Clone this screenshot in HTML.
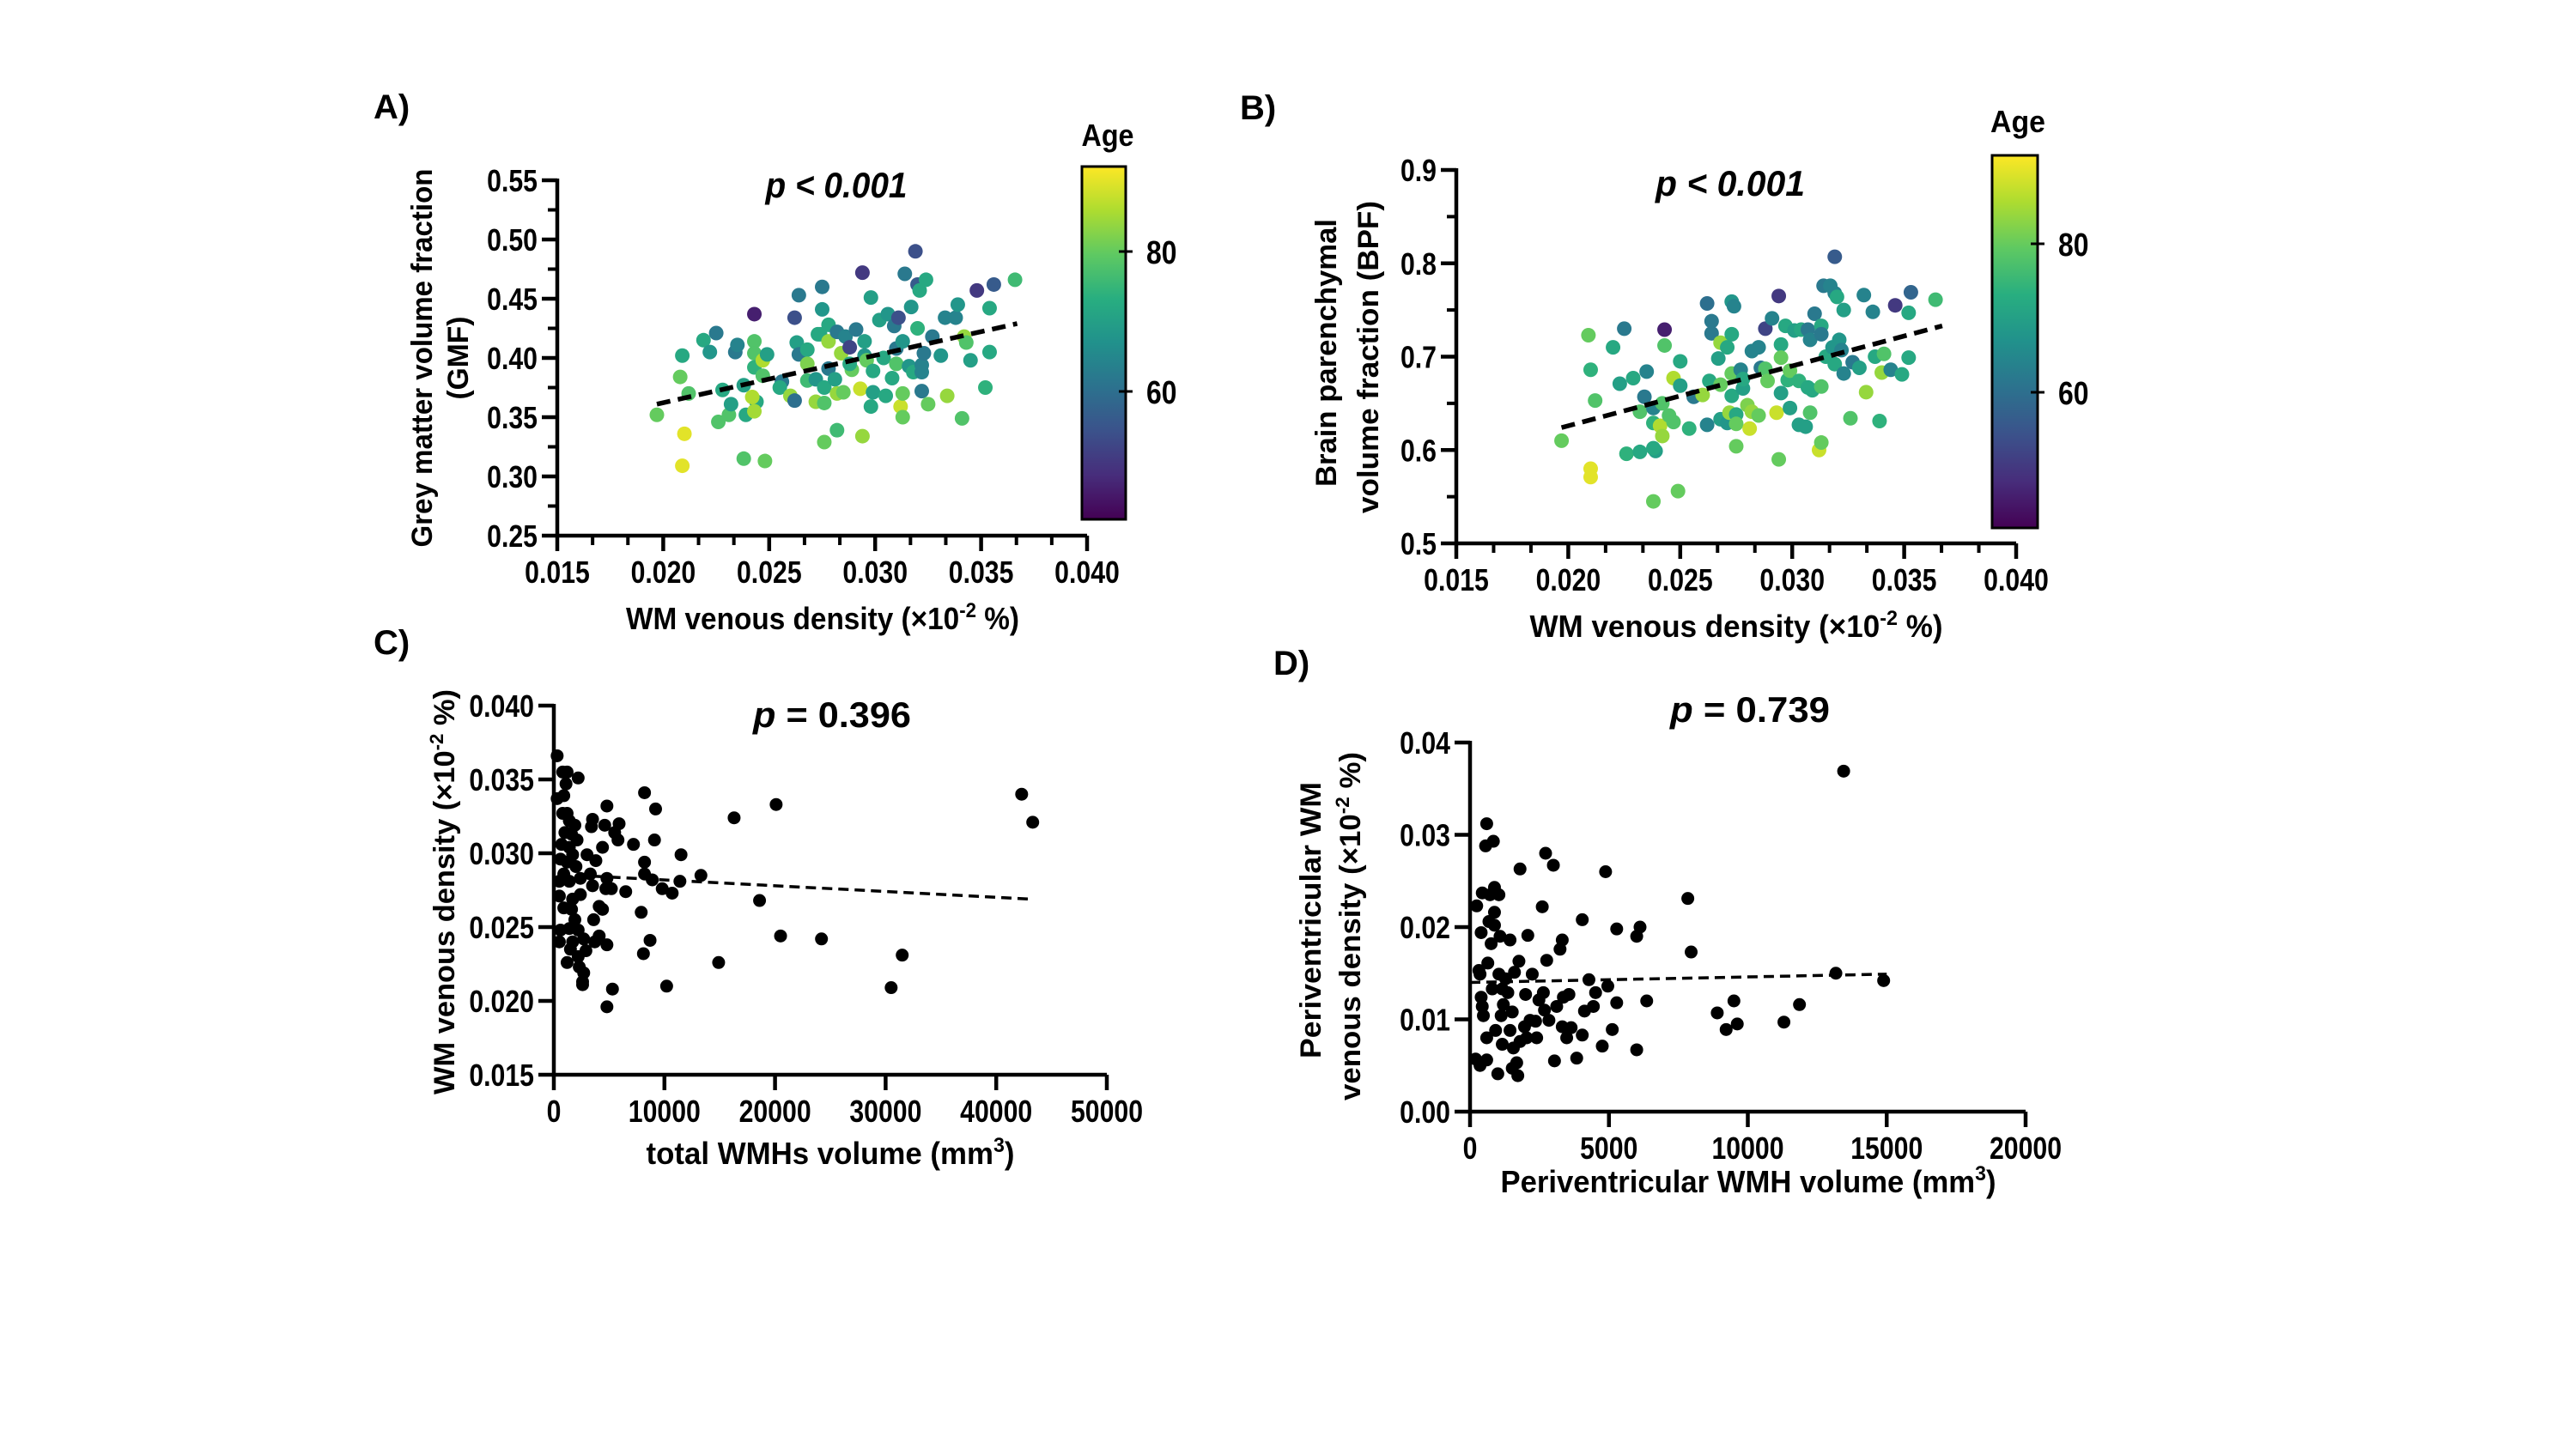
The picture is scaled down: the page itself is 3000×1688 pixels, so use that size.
<!DOCTYPE html>
<html>
<head>
<meta charset="utf-8">
<style>
html,body{margin:0;padding:0;background:#fff;}
svg{display:block;}
text{font-family:"Liberation Sans",Arial,sans-serif;font-weight:bold;fill:#000;}
</style>
</head>
<body>
<svg id="fig" width="3000" height="1688" viewBox="0 0 3000 1688" xmlns="http://www.w3.org/2000/svg">
<defs>
<linearGradient id="viridis" x1="0" y1="1" x2="0" y2="0">
<stop offset="0" stop-color="#440154"/>
<stop offset="0.125" stop-color="#472d7b"/>
<stop offset="0.25" stop-color="#3b528b"/>
<stop offset="0.375" stop-color="#2c728e"/>
<stop offset="0.5" stop-color="#21918c"/>
<stop offset="0.625" stop-color="#28ae80"/>
<stop offset="0.75" stop-color="#5ec962"/>
<stop offset="0.875" stop-color="#addc30"/>
<stop offset="1" stop-color="#fde725"/>
</linearGradient>
</defs>
<rect width="3000" height="1688" fill="#fff"/>

<!-- Panel labels -->
<text x="435" y="138" font-size="40">A)</text>
<text x="1444" y="139" font-size="40">B)</text>
<text x="435" y="762" font-size="40">C)</text>
<text x="1483" y="786" font-size="40">D)</text>

<!-- p-value titles -->
<text x="974" y="230" font-size="42" font-style="italic" text-anchor="middle" textLength="165" lengthAdjust="spacingAndGlyphs">p &lt; 0.001</text>
<text x="2015" y="228" font-size="42" font-style="italic" text-anchor="middle" textLength="174" lengthAdjust="spacingAndGlyphs">p &lt; 0.001</text>
<text x="969" y="847" font-size="42" text-anchor="middle" textLength="184" lengthAdjust="spacingAndGlyphs"><tspan font-style="italic">p</tspan>  = 0.396</text>
<text x="2038" y="841" font-size="42" text-anchor="middle" textLength="186" lengthAdjust="spacingAndGlyphs"><tspan font-style="italic">p</tspan>  = 0.739</text>

<!-- Axis titles -->
<text x="958" y="733" font-size="36" text-anchor="middle" textLength="458" lengthAdjust="spacingAndGlyphs">WM venous density (×10<tspan font-size="24" dy="-14">-2</tspan><tspan dy="14"> %)</tspan></text>
<text x="2022" y="742" font-size="36" text-anchor="middle" textLength="481" lengthAdjust="spacingAndGlyphs">WM venous density (×10<tspan font-size="24" dy="-14">-2</tspan><tspan dy="14"> %)</tspan></text>
<text x="967" y="1356" font-size="36" text-anchor="middle" textLength="429" lengthAdjust="spacingAndGlyphs">total WMHs volume (mm<tspan font-size="24" dy="-14">3</tspan><tspan dy="14">)</tspan></text>
<text x="2036" y="1389" font-size="36" text-anchor="middle" textLength="577" lengthAdjust="spacingAndGlyphs">Periventricular WMH volume (mm<tspan font-size="24" dy="-14">3</tspan><tspan dy="14">)</tspan></text>

<text transform="translate(503,417) rotate(-90)" font-size="34" text-anchor="middle" textLength="441" lengthAdjust="spacingAndGlyphs">Grey matter volume fraction</text>
<text transform="translate(545,417) rotate(-90)" font-size="34" text-anchor="middle" textLength="97" lengthAdjust="spacingAndGlyphs">(GMF)</text>
<text transform="translate(1556,411) rotate(-90)" font-size="34" text-anchor="middle" textLength="312" lengthAdjust="spacingAndGlyphs">Brain parenchymal</text>
<text transform="translate(1605,416) rotate(-90)" font-size="34" text-anchor="middle" textLength="364" lengthAdjust="spacingAndGlyphs">volume fraction (BPF)</text>
<text transform="translate(529,1039) rotate(-90)" font-size="34" text-anchor="middle" textLength="472" lengthAdjust="spacingAndGlyphs">WM venous density (×10<tspan font-size="22" dy="-13">-2</tspan><tspan dy="13"> %)</tspan></text>
<text transform="translate(1538,1072) rotate(-90)" font-size="34" text-anchor="middle" textLength="322" lengthAdjust="spacingAndGlyphs">Periventricular WM</text>
<text transform="translate(1584,1079) rotate(-90)" font-size="34" text-anchor="middle" textLength="406" lengthAdjust="spacingAndGlyphs">venous density (×10<tspan font-size="22" dy="-13">-2</tspan><tspan dy="13"> %)</tspan></text>

<!-- Colorbars -->
<text x="1290" y="170" font-size="36" text-anchor="middle" textLength="61" lengthAdjust="spacingAndGlyphs">Age</text>
<rect x="1260" y="194" width="51" height="411" fill="url(#viridis)" stroke="#000" stroke-width="3"/>
<text x="2350" y="154" font-size="36" text-anchor="middle" textLength="64" lengthAdjust="spacingAndGlyphs">Age</text>
<rect x="2320" y="181" width="53" height="434" fill="url(#viridis)" stroke="#000" stroke-width="3"/>

<g id="layer"></g>
</svg>

<script>
// ---------- Panel A data (WM venous density vs GMF, colored by age) ----------
const aX = [0.0197,0.0209,0.0210,0.0208,0.0209,0.0212,0.0219,0.0225,0.0222,0.0228,0.0226,0.0231,0.0232,0.0234,0.0235,0.0238,0.0239,0.0238,0.0243,0.0243,0.0243,0.0243,0.0247,0.0249,0.0247,0.0244,0.0242,0.0243,0.0248,0.0256,0.0255,0.0260,0.0262,0.0262,0.0264,0.0263,0.0264,0.0268,0.0268,0.0268,0.0272,0.0272,0.0275,0.0275,0.0273,0.0274,0.0278,0.0278,0.0278,0.0276,0.0276,0.0276,0.0281,0.0282,0.0282,0.0282,0.0285,0.0284,0.0286,0.0288,0.0289,0.0288,0.0291,0.0294,0.0293,0.0295,0.0295,0.0296,0.0294,0.0298,0.0299,0.0299,0.0298,0.0302,0.0304,0.0305,0.0306,0.0308,0.0309,0.0310,0.0310,0.0311,0.0313,0.0312,0.0313,0.0313,0.0314,0.0316,0.0317,0.0318,0.0319,0.0320,0.0321,0.0324,0.0320,0.0322,0.0322,0.0323,0.0322,0.0325,0.0327,0.0331,0.0333,0.0334,0.0338,0.0339,0.0341,0.0342,0.0343,0.0345,0.0348,0.0352,0.0354,0.0354,0.0356,0.0366];
const aY = [0.352,0.309,0.336,0.384,0.402,0.370,0.415,0.421,0.405,0.373,0.346,0.352,0.361,0.405,0.411,0.377,0.352,0.315,0.437,0.414,0.404,0.392,0.398,0.403,0.385,0.363,0.367,0.355,0.313,0.380,0.375,0.368,0.364,0.434,0.453,0.413,0.403,0.407,0.395,0.381,0.382,0.363,0.460,0.441,0.420,0.420,0.428,0.414,0.391,0.375,0.362,0.329,0.382,0.422,0.339,0.370,0.371,0.404,0.418,0.409,0.390,0.395,0.424,0.472,0.374,0.414,0.402,0.398,0.334,0.451,0.389,0.371,0.359,0.432,0.400,0.368,0.437,0.383,0.427,0.408,0.395,0.434,0.414,0.359,0.370,0.350,0.471,0.393,0.443,0.388,0.490,0.462,0.457,0.466,0.425,0.394,0.388,0.404,0.372,0.361,0.418,0.402,0.434,0.368,0.434,0.445,0.349,0.418,0.413,0.398,0.457,0.375,0.442,0.405,0.462,0.466];
const aAge = [80,90,90,80,72,78,72,62,68,72,78,78,70,62,64,70,72,78,46,78,78,74,86,70,78,72,86,85,80,62,72,84,60,54,62,70,62,72,82,76,68,84,62,68,72,72,72,84,62,72,78,80,70,62,76,84,80,84,64,52,80,72,62,50,88,70,68,80,84,70,72,70,72,70,72,72,68,72,62,62,78,54,68,88,80,80,62,68,68,72,54,56,72,72,74,64,64,62,62,80,62,68,64,84,64,68,78,84,78,70,50,74,72,72,56,76];
const aFit = [[0.0197,0.361],[0.0367,0.429]];

// ---------- Panel B data (WM venous density vs BPF, colored by age) ----------
const bX = [0.0197,0.0209,0.0210,0.0210,0.0210,0.0212,0.0220,0.0225,0.0223,0.0226,0.0229,0.0232,0.0232,0.0234,0.0235,0.0243,0.0243,0.0238,0.0239,0.0238,0.0238,0.0238,0.0242,0.0241,0.0242,0.0245,0.0247,0.0247,0.0250,0.0250,0.0249,0.0254,0.0256,0.0260,0.0262,0.0264,0.0264,0.0263,0.0262,0.0267,0.0268,0.0268,0.0268,0.0271,0.0271,0.0272,0.0273,0.0273,0.0274,0.0273,0.0273,0.0275,0.0275,0.0275,0.0277,0.0278,0.0278,0.0280,0.0281,0.0282,0.0282,0.0285,0.0285,0.0286,0.0288,0.0288,0.0289,0.0291,0.0293,0.0294,0.0295,0.0295,0.0295,0.0294,0.0297,0.0298,0.0299,0.0299,0.0301,0.0303,0.0303,0.0304,0.0306,0.0307,0.0307,0.0308,0.0308,0.0310,0.0309,0.0313,0.0313,0.0313,0.0312,0.0313,0.0314,0.0317,0.0315,0.0318,0.0319,0.0319,0.0320,0.0321,0.0319,0.0322,0.0323,0.0323,0.0327,0.0330,0.0332,0.0333,0.0326,0.0336,0.0337,0.0339,0.0340,0.0341,0.0344,0.0346,0.0349,0.0352,0.0352,0.0353,0.0364];
const bY = [0.610,0.723,0.686,0.580,0.571,0.653,0.710,0.730,0.671,0.596,0.677,0.598,0.641,0.657,0.684,0.729,0.712,0.645,0.599,0.602,0.629,0.545,0.650,0.626,0.615,0.637,0.630,0.677,0.669,0.695,0.556,0.623,0.657,0.659,0.757,0.738,0.725,0.674,0.627,0.698,0.715,0.670,0.633,0.710,0.629,0.640,0.724,0.759,0.754,0.658,0.682,0.638,0.628,0.604,0.686,0.666,0.676,0.648,0.623,0.706,0.641,0.637,0.710,0.688,0.730,0.687,0.674,0.741,0.640,0.765,0.713,0.661,0.699,0.590,0.733,0.675,0.685,0.645,0.728,0.674,0.627,0.729,0.625,0.667,0.729,0.640,0.718,0.746,0.664,0.733,0.724,0.668,0.600,0.608,0.776,0.776,0.700,0.710,0.807,0.768,0.764,0.718,0.692,0.707,0.682,0.750,0.694,0.688,0.766,0.662,0.634,0.748,0.700,0.631,0.683,0.703,0.686,0.755,0.681,0.747,0.699,0.769,0.761];
const bAge = [80,80,74,90,90,78,72,62,70,74,72,72,78,62,64,46,78,64,70,72,74,80,78,86,84,78,78,86,70,72,80,74,62,84,60,62,62,72,64,70,84,80,70,72,68,84,72,68,64,72,80,72,80,80,64,70,72,82,88,64,84,80,64,62,52,78,80,64,88,50,72,70,80,80,72,74,80,70,70,74,70,72,70,72,62,78,64,62,72,72,62,78,88,80,62,64,72,68,56,64,72,68,72,64,64,70,62,70,64,84,78,64,72,74,84,78,64,50,72,72,72,58,76];
const bFit = [[0.0197,0.624],[0.0367,0.733]];

// ---------- Panel C data (total WMH volume vs WM venous density) ----------
const cX = [300,300,800,1200,1100,900,2200,800,1200,1400,1000,1600,1900,2100,700,1400,600,1700,1200,2000,900,500,1400,2400,500,1700,900,1600,2400,600,1400,1900,2200,500,1700,1500,1200,2200,2700,2900,2300,2700,2600,2600,3000,3500,3400,3800,3300,3500,3600,3700,4100,4100,4400,4400,4600,4800,4800,4800,4800,4700,5200,5300,5500,5800,5900,6500,7200,7900,8100,8200,8200,8200,8700,8900,9100,9200,9800,10200,10700,11400,11500,13300,14900,16300,18600,20100,20500,24200,30500,31500,42300,43300];
const cY = [0.0366,0.0337,0.0355,0.0355,0.0347,0.0339,0.0351,0.0327,0.0327,0.0322,0.0314,0.0313,0.0319,0.0309,0.0306,0.0304,0.0296,0.0299,0.0294,0.0291,0.0286,0.0281,0.0281,0.0283,0.0271,0.0269,0.0263,0.0262,0.0272,0.0248,0.0249,0.0255,0.0248,0.0240,0.0240,0.0235,0.0226,0.0230,0.0242,0.0234,0.0223,0.0219,0.0213,0.0211,0.0299,0.0323,0.0318,0.0295,0.0286,0.0278,0.0255,0.0240,0.0244,0.0264,0.0262,0.0304,0.0319,0.0332,0.0283,0.0196,0.0238,0.0276,0.0276,0.0208,0.0314,0.0309,0.0320,0.0274,0.0306,0.0260,0.0232,0.0341,0.0294,0.0286,0.0241,0.0282,0.0309,0.0330,0.0276,0.0210,0.0273,0.0281,0.0299,0.0285,0.0226,0.0324,0.0268,0.0333,0.0244,0.0242,0.0209,0.0231,0.0340,0.0321];
const cFit = [[2150,0.0285],[43000,0.0269]];

// ---------- Panel D data (periventricular WMH volume vs periventricular WM venous density) ----------
const dX = [200,360,240,320,360,400,440,400,440,480,560,600,600,600,640,680,720,760,800,840,880,880,880,920,1000,1040,1080,1040,1120,1160,1160,1200,1280,1360,1440,1440,1520,1520,1560,1600,1680,1720,1760,1800,1800,1960,2000,2040,2080,2160,2240,2360,2400,2480,2600,2640,2680,2720,2760,2840,3000,3040,3120,3240,3320,3320,3360,3480,3560,3640,3840,4040,4040,4120,4280,4440,4520,4760,4880,4960,5120,5280,5280,6000,6120,6000,6360,7840,7960,8900,9220,9500,9620,11300,11860,13170,13450,14890];
const dY = [0.0057,0.0050,0.0223,0.0153,0.0149,0.0194,0.0237,0.0124,0.0114,0.0104,0.0288,0.0312,0.0056,0.0080,0.0161,0.0206,0.0235,0.0182,0.0133,0.0293,0.0243,0.0216,0.0202,0.0088,0.0041,0.0235,0.0190,0.0149,0.0104,0.0073,0.0133,0.0116,0.0144,0.0129,0.0186,0.0088,0.0108,0.0047,0.0069,0.0151,0.0053,0.0039,0.0163,0.0263,0.0076,0.0092,0.0127,0.0080,0.0191,0.0099,0.0149,0.0098,0.0080,0.0121,0.0222,0.0129,0.0110,0.0280,0.0164,0.0099,0.0267,0.0055,0.0114,0.0176,0.0186,0.0092,0.0124,0.0080,0.0127,0.0091,0.0058,0.0208,0.0083,0.0109,0.0143,0.0114,0.0129,0.0071,0.0260,0.0136,0.0089,0.0118,0.0198,0.0190,0.0200,0.0067,0.0120,0.0231,0.0173,0.0107,0.0089,0.0120,0.0095,0.0097,0.0116,0.0150,0.0369,0.0142];
const dFit = [[0,0.0140],[15000,0.0149]];

// ---------- Tick labels ----------
const aXTicks = [0.015,0.020,0.025,0.030,0.035,0.040];
const aXTickLabels = ["0.015","0.020","0.025","0.030","0.035","0.040"];
const aYTicks = [0.25,0.30,0.35,0.40,0.45,0.50,0.55];
const aYTickLabels = ["0.25","0.30","0.35","0.40","0.45","0.50","0.55"];
const bYTicks = [0.5,0.6,0.7,0.8,0.9];
const bYTickLabels = ["0.5","0.6","0.7","0.8","0.9"];
const cXTicks = [0,10000,20000,30000,40000,50000];
const cXTickLabels = ["0","10000","20000","30000","40000","50000"];
const cYTicks = [0.015,0.020,0.025,0.030,0.035,0.040];
const cYTickLabels = ["0.015","0.020","0.025","0.030","0.035","0.040"];
const dXTicks = [0,5000,10000,15000,20000];
const dXTickLabels = ["0","5000","10000","15000","20000"];
const dYTicks = [0.00,0.01,0.02,0.03,0.04];
const dYTickLabels = ["0.00","0.01","0.02","0.03","0.04"];
const ageTicks = [60,80];
const ageTickLabels = ["60","80"];

const NS = "http://www.w3.org/2000/svg";
const layer = document.getElementById('layer');

function mk(tag, attrs, parent){
  const e = document.createElementNS(NS, tag);
  for (const k in attrs) e.setAttribute(k, attrs[k]);
  (parent||layer).appendChild(e);
  return e;
}
function scale(d0,d1,p0,p1){ return v => p0 + (v-d0)/(d1-d0)*(p1-p0); }

function viridis(t){
  const s=[[68,1,84],[71,45,123],[59,82,139],[44,114,142],[33,145,140],[40,174,128],[94,201,98],[173,220,48],[253,231,37]];
  t=Math.max(0,Math.min(1,t)); const f=t*(s.length-1); const i=Math.min(s.length-2,Math.floor(f)); const r=f-i;
  const c=s[i].map((v,k)=>Math.round(v+(s[i+1][k]-v)*r));
  return `rgb(${c[0]},${c[1]},${c[2]})`;
}

function condText(x,y,str,anchor,size,sx,bold){
  const t = mk('text',{transform:`translate(${x},${y}) scale(${sx},1)`,'text-anchor':anchor,'font-size':size});
  if(!bold) t.setAttribute('font-weight','normal');
  t.textContent = str;
  return t;
}

function panel(cfg){
  const g = mk('g',{});
  
  
  const X = scale(cfg.xd[0],cfg.xd[1],cfg.px[0],cfg.px[1]);
  const Y = scale(cfg.yd[0],cfg.yd[1],cfg.py[0],cfg.py[1]);
  // axes
  const ax = mk('path',{d:`M${cfg.px[0]},${cfg.py[1]-2} V${cfg.py[0]} H${cfg.px[1]}`,fill:'none',stroke:'#000','stroke-width':4.5},g);
  
  
  // x ticks
  cfg.xt.forEach((v,i)=>{
    const x=X(v);
    const tk=mk('line',{x1:x,x2:x,y1:cfg.py[0],y2:cfg.py[0]+18,stroke:'#000','stroke-width':4.5},g);
    
    
    const lb=condText(x,cfg.py[0]+55,cfg.xl[i],'middle',36,0.84,true); g.appendChild(lb);
    
    
    if(cfg.xMinor && i<cfg.xt.length-1){
      for(let k=1;k<cfg.xMinor;k++){
        const xm=X(v+(cfg.xt[i+1]-v)*k/cfg.xMinor);
        const mt=mk('line',{x1:xm,x2:xm,y1:cfg.py[0],y2:cfg.py[0]+11,stroke:'#000','stroke-width':4},g);
        
        
      }
    }
  });
  cfg.yt.forEach((v,i)=>{
    const y=Y(v);
    const tk=mk('line',{x1:cfg.px[0]-18,x2:cfg.px[0],y1:y,y2:y,stroke:'#000','stroke-width':4.5},g);
    
    
    const lb=condText(cfg.px[0]-23,y+13,cfg.yl[i],'end',36,0.84,true); g.appendChild(lb);
    
    
    if(cfg.yMinor && i<cfg.yt.length-1){
      for(let k=1;k<cfg.yMinor;k++){
        const ym=Y(v+(cfg.yt[i+1]-v)*k/cfg.yMinor);
        const mt=mk('line',{x1:cfg.px[0]-11,x2:cfg.px[0],y1:ym,y2:ym,stroke:'#000','stroke-width':4},g);
        
        
      }
    }
  });
  // points
  cfg.x.forEach((v,i)=>{
    const fill = cfg.age ? viridis((cfg.age[i]-cfg.ageRange[0])/(cfg.ageRange[1]-cfg.ageRange[0])) : '#000';
    const c=mk('circle',{cx:X(v),cy:Y(cfg.y[i]),r:cfg.r,fill:fill},g);
    
    
  });
  // fit line
  const f=cfg.fit;
  const ln=mk('line',{x1:X(f[0][0]),y1:Y(f[0][1]),x2:X(f[1][0]),y2:Y(f[1][1]),stroke:'#000','stroke-width':cfg.fitW,'stroke-dasharray':cfg.dash},g);
  
  
}

const ageRange=[41.7,92.1];
panel({name:'panel-a-scatter',x:aX,y:aY,age:aAge,ageRange,fit:aFit,xd:[0.015,0.040],px:[649,1266],yd:[0.25,0.55],py:[624,210],
  xt:aXTicks,xl:aXTickLabels,yt:aYTicks,yl:aYTickLabels,xMinor:3,yMinor:2,r:8.5,fitW:5.5,dash:'16 9'});
panel({name:'panel-b-scatter',x:bX,y:bY,age:bAge,ageRange,fit:bFit,xd:[0.015,0.040],px:[1696,2348],yd:[0.5,0.9],py:[633,198],
  xt:aXTicks,xl:aXTickLabels,yt:bYTicks,yl:bYTickLabels,xMinor:3,yMinor:2,r:8.5,fitW:5.5,dash:'16 9'});
panel({name:'panel-c-scatter',x:cX,y:cY,fit:cFit,xd:[0,50000],px:[645,1289],yd:[0.015,0.040],py:[1252,822],
  xt:cXTicks,xl:cXTickLabels,yt:cYTicks,yl:cYTickLabels,r:7.5,fitW:3.5,dash:'12 7'});
panel({name:'panel-d-scatter',x:dX,y:dY,fit:dFit,xd:[0,20000],px:[1712,2359],yd:[0,0.04],py:[1295,865],
  xt:dXTicks,xl:dXTickLabels,yt:dYTicks,yl:dYTickLabels,r:7.5,fitW:3.5,dash:'12 7'});

// colorbar ticks
function cbar(x0,w,ya,yb,name){
  // ya: y of age 80, yb: y of age 60
  const A = scale(80,60,ya,yb);
  ageTicks.forEach((v,i)=>{
    const y=A(v);
    const t=mk('line',{x1:x0+w-8,x2:x0+w+8,y1:y,y2:y,stroke:'#000','stroke-width':3});
    
    
    const l=condText(x0+w+24,y+14,ageTickLabels[i],'start',38,0.84,false);
    
    
  });
}
cbar(1260,51,293,456,'colorbar-a');
cbar(2320,53,284,457,'colorbar-b');
</script>
</body>
</html>
